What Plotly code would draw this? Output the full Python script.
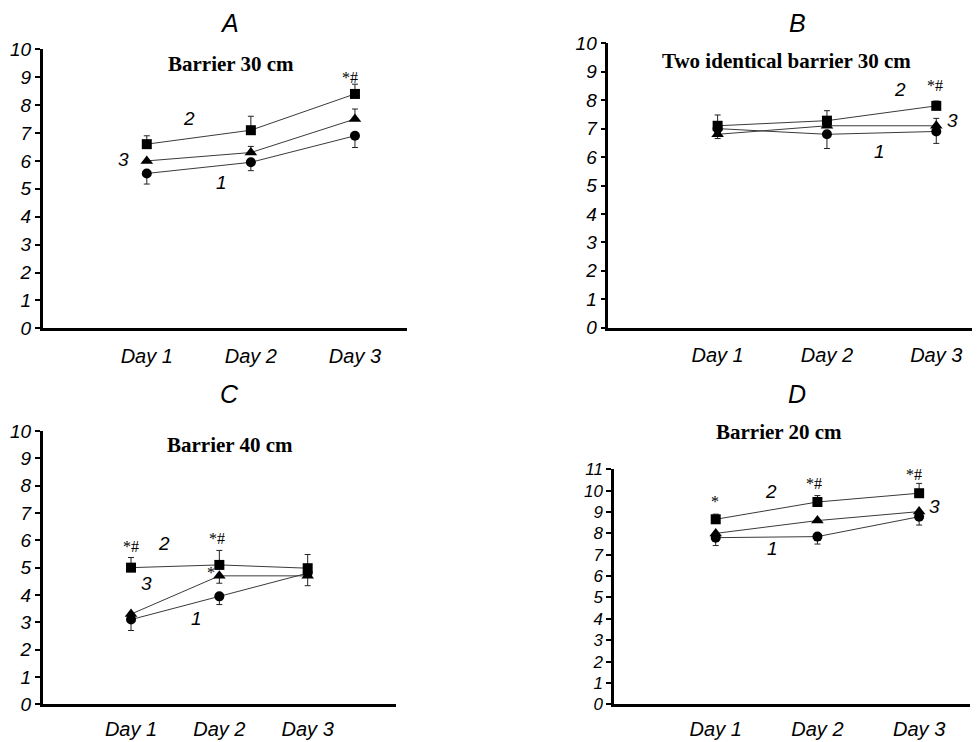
import plotly.graph_objects as go

# ---------------- data ----------------
days = ["Day 1", "Day 2", "Day 3"]
day_pos = [1, 2, 3]

# Panel A: Barrier 30 cm
a_g1 = [5.55, 5.95, 6.9]
a_g1_minus = [0.38, 0.3, 0.42]
a_g2 = [6.6, 7.1, 8.4]
a_g2_plus = [0.3, 0.5, 0.35]
a_g3 = [6.0, 6.3, 7.5]
a_g3_plus = [0.0, 0.22, 0.36]

# Panel B: Two identical barrier 30 cm
b_g1 = [7.0, 6.8, 6.9]
b_g1_minus = [0.35, 0.5, 0.42]
b_g2 = [7.1, 7.28, 7.8]
b_g2_plus = [0.38, 0.35, 0.17]
b_g3 = [6.8, 7.1, 7.1]
b_g3_plus = [0.0, 0.0, 0.26]

# Panel C: Barrier 40 cm
c_g1 = [3.1, 3.95, 4.8]
c_g1_minus = [0.4, 0.3, 0.46]
c_g2 = [5.0, 5.1, 4.98]
c_g2_plus = [0.37, 0.53, 0.5]
c_g3 = [3.3, 4.7, 4.7]
c_g3_minus = [0.0, 0.27, 0.0]

# Panel D: Barrier 20 cm
d_g1 = [7.8, 7.85, 8.78]
d_g1_minus = [0.37, 0.35, 0.39]
d_g2 = [8.66, 9.47, 9.88]
d_g2_plus = [0.24, 0.3, 0.46]
d_g3 = [8.0, 8.6, 9.02]

panel_titles = ["Barrier 30 cm", "Two identical barrier 30 cm", "Barrier 40 cm", "Barrier 20 cm"]
panel_letters = ["A", "B", "C", "D"]

# ---------------- figure ----------------
# the page body has an 8px margin, so the figure is 972x734 and starts at (8, 8)
W, H, OFF = 972, 734, 8


def px(X):
    return (X - OFF) / W


def py(Y):
    return 1 - (Y - OFF) / H


fig = go.Figure()

LINE_COL = "#3a3a3a"
SANS = "Liberation Sans, Arial, sans-serif"
SERIF = "Liberation Serif, Times New Roman, serif"


def add_series(xa, ya, y, marker, plus=None, minus=None):
    err = None
    if plus is not None or minus is not None:
        err = dict(
            type="data",
            symmetric=False,
            array=plus if plus is not None else [0] * len(y),
            arrayminus=minus if minus is not None else [0] * len(y),
            color="#222",
            thickness=1,
            width=3,
        )
    fig.add_trace(go.Scatter(
        x=day_pos, y=y, xaxis=xa, yaxis=ya,
        mode="lines+markers",
        line=dict(color=LINE_COL, width=1),
        marker=dict(symbol=marker, size=10 if marker != "triangle-up" else 11, color="black"),
        error_y=err,
        showlegend=False,
        cliponaxis=False,
    ))


# A
add_series("x", "y", a_g1, "circle", minus=a_g1_minus)
add_series("x", "y", a_g3, "triangle-up", plus=a_g3_plus)
add_series("x", "y", a_g2, "square", plus=a_g2_plus)
# B
add_series("x2", "y2", b_g1, "circle", minus=b_g1_minus)
add_series("x2", "y2", b_g3, "triangle-up", plus=b_g3_plus)
add_series("x2", "y2", b_g2, "square", plus=b_g2_plus)
# C
add_series("x3", "y3", c_g1, "circle", minus=c_g1_minus)
add_series("x3", "y3", c_g3, "triangle-up", minus=c_g3_minus)
add_series("x3", "y3", c_g2, "square", plus=c_g2_plus)
# D
add_series("x4", "y4", d_g1, "circle", minus=d_g1_minus)
add_series("x4", "y4", d_g3, "triangle-up")
add_series("x4", "y4", d_g2, "square", plus=d_g2_plus)


def xaxis(domain, rng, anchor, standoff):
    return dict(
        domain=domain, range=rng, anchor=anchor,
        showline=True, linecolor="black", linewidth=2.5,
        showgrid=False, zeroline=False, ticks="",
        tickvals=day_pos, ticktext=days,
        tickfont=dict(family=SANS, size=20, color="black", style="italic"),
        ticklabelstandoff=standoff,
    )


def yaxis(domain, rng, anchor, nmax, size):
    return dict(
        domain=domain, range=rng, anchor=anchor,
        showline=True, linecolor="black", linewidth=2.5,
        showgrid=False, zeroline=False,
        ticks="outside", ticklen=5, tickwidth=2, tickcolor="black",
        tickvals=list(range(0, nmax + 1)),
        tickfont=dict(family=SANS, size=size, color="black", style="italic"),
        ticklabelstandoff=0,
    )


fig.update_layout(
    width=W, height=H,
    margin=dict(l=0, r=0, t=0, b=0, autoexpand=False),
    paper_bgcolor="white", plot_bgcolor="white",
    xaxis=xaxis([px(42.7), px(407)], [0, 3.5], "y", 8),
    yaxis=yaxis([py(328.3), py(49.3)], [0, 10], "x", 10, 19),
    xaxis2=xaxis([px(608.3), 1.0], [0, 3.4], "y2", 8),
    yaxis2=yaxis([py(327.7), py(43.3)], [0, 10], "x2", 10, 19),
    xaxis3=xaxis([px(42.7), px(396)], [0, 4.0], "y3", 5),
    yaxis3=yaxis([py(704.3), py(431)], [0, 10], "x3", 10, 19),
    xaxis4=xaxis([px(614), px(970)], [0, 3.5], "y4", 5),
    yaxis4=yaxis([py(704.3), py(469.3)], [0, 11], "x4", 11, 17),
)

ann = []


def label(xr, yr, x, y, text, size=19, family=SANS, italic=True, bold=False, pad=1):
    t = text
    if bold:
        t = "<b>" + t + "</b>"
    if italic:
        t = "<i>" + t + "</i>"
    ann.append(dict(x=x, y=y, xref=xr, yref=yr, text=t, showarrow=False,
                    font=dict(family=family, size=size, color="black"),
                    xanchor="center", yanchor="middle", borderpad=pad))


# panel titles (bold serif)
label("x", "y", 1.81, 9.46, panel_titles[0], size=21, family=SERIF, italic=False, bold=True)
label("x2", "y2", 1.63, 9.38, panel_titles[1], size=21, family=SERIF, italic=False, bold=True)
label("x3", "y3", 2.12, 9.49, panel_titles[2], size=21, family=SERIF, italic=False, bold=True)
label("paper", "paper", px(779.3), py(431.7), panel_titles[3], size=21, family=SERIF, italic=False, bold=True)

# panel letters
label("paper", "paper", px(229), py(23), panel_letters[0], size=25, pad=0)
label("paper", "paper", px(797), py(23), panel_letters[1], size=25, pad=0)
label("paper", "paper", px(229), py(394), panel_letters[2], size=25, pad=0)
label("paper", "paper", px(797), py(394), panel_letters[3], size=25, pad=0)

# group numbers
label("x", "y", 1.41, 7.53, "2")
label("x", "y", 0.78, 6.06, "3")
label("x", "y", 1.72, 5.22, "1")
label("x2", "y2", 2.67, 8.36, "2")
label("x2", "y2", 3.15, 7.3, "3")
label("x2", "y2", 2.48, 6.19, "1")
label("x3", "y3", 1.37, 5.89, "2")
label("x3", "y3", 1.18, 4.43, "3")
label("x3", "y3", 1.74, 3.15, "1")
label("x4", "y4", 1.54, 9.95, "2")
label("x4", "y4", 3.15, 9.25, "3")
label("x4", "y4", 1.56, 7.3, "1")

# significance marks
label("x", "y", 2.95, 9.0, "*#", size=16, family=SERIF, italic=False)
label("x2", "y2", 2.99, 8.53, "*#", size=16, family=SERIF, italic=False)
label("x3", "y3", 1.0, 5.77, "*#", size=16, family=SERIF, italic=False)
label("x3", "y3", 1.97, 6.05, "*#", size=16, family=SERIF, italic=False)
label("x3", "y3", 1.9, 4.82, "*", size=16, family=SERIF, italic=False)
label("x4", "y4", 0.995, 9.49, "*", size=16, family=SERIF, italic=False)
label("x4", "y4", 1.97, 10.34, "*#", size=16, family=SERIF, italic=False)
label("x4", "y4", 2.95, 10.78, "*#", size=16, family=SERIF, italic=False)

fig.update_layout(annotations=ann)

fig.write_html("out.html")
